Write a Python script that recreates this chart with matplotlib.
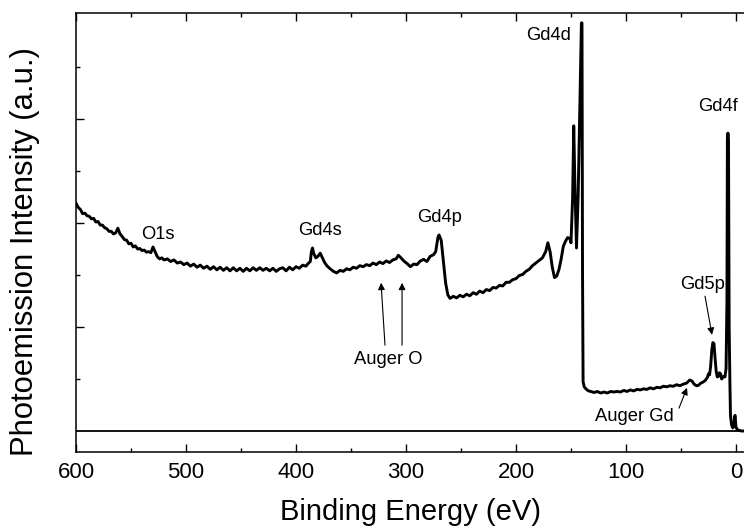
import matplotlib
matplotlib.use("Agg")
import matplotlib.pyplot as plt

plt.rcParams['font.family'] = ['Liberation Sans', 'DejaVu Sans']

# XPS survey spectrum (binding energy in eV, intensity in a.u.)
energy = [600, 598, 596, 594, 592, 590, 588, 586, 584, 582, 580, 578, 576, 574, 572, 570,
          568, 566, 564, 562, 560, 558, 556, 554, 552, 550, 548, 546, 544, 542, 540, 538,
          536, 534, 532, 530, 528, 526, 524, 522, 520, 517, 514, 511, 508, 505, 502, 499,
          496, 493, 490, 487, 484, 481, 478, 475, 472, 469, 466, 463, 460, 457, 454, 451,
          448, 445, 442, 439, 436, 433, 430, 427, 424, 421, 418, 415, 412, 409, 406, 403,
          400, 397, 394, 391, 389, 387, 386, 385, 384, 382, 380, 378, 376, 374, 372, 369,
          366, 363, 360, 357, 354, 351, 348, 345, 342, 339, 336, 333, 330, 327, 324, 321,
          318, 315, 312, 309, 307, 305, 302, 299, 296, 293, 290, 287, 284, 281, 278, 275,
          273, 271, 270, 268, 266, 264, 262, 260, 257, 254, 251, 248, 245, 242, 239, 236,
          233, 230, 227, 224, 221, 218, 215, 212, 209, 206, 203, 200, 197, 194, 191, 188,
          185, 182, 179, 176, 173, 171, 169, 167, 165, 163, 161, 159, 157, 155, 153, 151,
          150, 148.5, 147.5, 146.5, 145, 143.5, 141, 140.5, 140, 139.5, 139, 138, 136, 134,
          132, 129, 126, 123, 120, 117, 114, 111, 108, 105, 102, 99, 96, 93, 90, 87,
          84, 81, 78, 75, 72, 69, 66, 63, 60, 57, 54, 51, 48, 45, 42, 40,
          38, 36, 34, 32, 30, 28, 26, 25, 24, 23, 22, 21, 20, 19, 18, 17,
          16, 15, 14, 13, 12, 11, 10, 9, 8.2, 7.8, 7.3, 6.8, 6.2, 5.5, 5, 4,
          3, 2, 1.2, 0.8, 0, -1, -3, -5, -7.3]
intensity = [4.38, 4.30, 4.26, 4.18, 4.19, 4.14, 4.13, 4.08, 4.09, 4.02, 4.03, 3.96, 3.96, 3.91, 3.89, 3.84,
             3.84, 3.79, 3.81, 3.90, 3.79, 3.74, 3.68, 3.67, 3.60, 3.61, 3.54, 3.56, 3.50, 3.51, 3.47, 3.48,
             3.44, 3.45, 3.43, 3.54, 3.44, 3.35, 3.31, 3.33, 3.29, 3.31, 3.26, 3.29, 3.23, 3.25, 3.20, 3.23,
             3.17, 3.21, 3.15, 3.19, 3.13, 3.17, 3.11, 3.16, 3.10, 3.15, 3.09, 3.14, 3.08, 3.14, 3.08, 3.13,
             3.07, 3.13, 3.08, 3.14, 3.09, 3.14, 3.09, 3.13, 3.08, 3.13, 3.07, 3.12, 3.14, 3.08, 3.15, 3.10,
             3.16, 3.13, 3.19, 3.17, 3.22, 3.26, 3.45, 3.52, 3.42, 3.33, 3.36, 3.42, 3.33, 3.24, 3.18, 3.12,
             3.07, 3.04, 3.09, 3.07, 3.12, 3.10, 3.15, 3.13, 3.18, 3.16, 3.20, 3.18, 3.23, 3.20, 3.25, 3.22,
             3.27, 3.24, 3.29, 3.31, 3.38, 3.34, 3.27, 3.22, 3.16, 3.21, 3.20, 3.27, 3.30, 3.26, 3.36, 3.39,
             3.45, 3.72, 3.77, 3.67, 3.25, 2.85, 2.62, 2.55, 2.59, 2.56, 2.61, 2.58, 2.63, 2.60, 2.66, 2.63,
             2.69, 2.66, 2.72, 2.70, 2.76, 2.75, 2.80, 2.79, 2.86, 2.86, 2.91, 2.93, 2.99, 3.01, 3.07, 3.11,
             3.18, 3.23, 3.28, 3.33, 3.45, 3.62, 3.45, 3.15, 2.95, 2.98, 3.10, 3.30, 3.55, 3.65, 3.72, 3.70,
             3.62, 4.50, 5.87, 4.80, 3.52, 4.50, 7.30, 7.85, 7.85, 3.00, 0.95, 0.85, 0.80, 0.77,
             0.76, 0.74, 0.76, 0.73, 0.75, 0.73, 0.76, 0.75, 0.76, 0.75, 0.78, 0.76, 0.79, 0.77, 0.80, 0.79,
             0.81, 0.80, 0.83, 0.81, 0.84, 0.83, 0.86, 0.85, 0.87, 0.86, 0.89, 0.87, 0.90, 0.92, 0.98, 0.96,
             0.90, 0.87, 0.88, 0.92, 0.94, 0.97, 1.03, 1.10, 1.08, 1.25, 1.55, 1.70, 1.68, 1.40, 1.15, 1.04,
             1.05, 1.12, 1.10, 1.00, 1.03, 1.05, 1.04, 1.20, 2.50, 5.60, 5.73, 5.60, 2.00, 0.90, 0.30, 0.12,
             0.06, 0.08, 0.28, 0.30, 0.08, 0.03, 0.01, 0.0, 0.0]

peak_labels = ['O1s', 'Gd4s', 'Gd4p', 'Gd4d', 'Gd4f']
peak_label_x = [525.5, 378.2, 269.1, 170, 16.4]
peak_label_y = [3.77, 3.85, 4.10, 7.60, 6.25]

fig = plt.figure(figsize=(7.44, 5.30), dpi=100)
ax = fig.add_axes([0.1022, 0.1472, 0.8978, 0.8283])

ax.plot(energy, intensity, color='black', linewidth=2.1, solid_joinstyle='round')
ax.axhline(0, color='black', linewidth=1.3)

ax.set_xlim(600, -7.3)
ax.set_ylim(-0.404, 8.04)

ax.set_xticks([600, 500, 400, 300, 200, 100, 0])
ax.set_xticks([550, 450, 350, 250, 150, 50], minor=True)
ax.set_yticks([2, 4, 6])
ax.set_yticks([1, 3, 5, 7], minor=True)
ax.set_yticklabels([])
ax.tick_params(which='both', direction='in', top=True, right=False, width=1.0)
ax.tick_params(which='major', length=6, labelsize=16, pad=7)
ax.tick_params(which='minor', length=3)
ax.spines['right'].set_visible(False)
for s in ['left', 'top', 'bottom']:
    ax.spines[s].set_linewidth(1.1)

ax.set_xlabel('Binding Energy (eV)', fontsize=21, labelpad=11)
fig.text(0.034, 0.525, 'Photoemission Intensity (a.u.)', rotation=90,
         ha='center', va='center', fontsize=22.3)

for lab, x, y in zip(peak_labels, peak_label_x, peak_label_y):
    ax.text(x, y, lab, fontsize=13.2, ha='center', va='center')

arrow = dict(arrowstyle='-|>', color='black', linewidth=0.8, mutation_scale=10, shrinkA=0, shrinkB=0)
ax.annotate('Gd5p', xy=(21.8, 1.85), xytext=(30, 2.81), fontsize=13.2, ha='center', va='center',
            arrowprops=arrow, annotation_clip=False)
ax.annotate('', xy=(322.7, 2.85), xytext=(319.1, 1.65), arrowprops=arrow)
ax.annotate('', xy=(303.6, 2.85), xytext=(303.6, 1.65), arrowprops=arrow)
ax.text(316.4, 1.37, 'Auger O', fontsize=13.2, ha='center', va='center')
ax.annotate('', xy=(44.5, 0.83), xytext=(51.8, 0.44), arrowprops=arrow)
ax.text(92.7, 0.27, 'Auger Gd', fontsize=13.2, ha='center', va='center')

fig.savefig('out.png', dpi=100)
